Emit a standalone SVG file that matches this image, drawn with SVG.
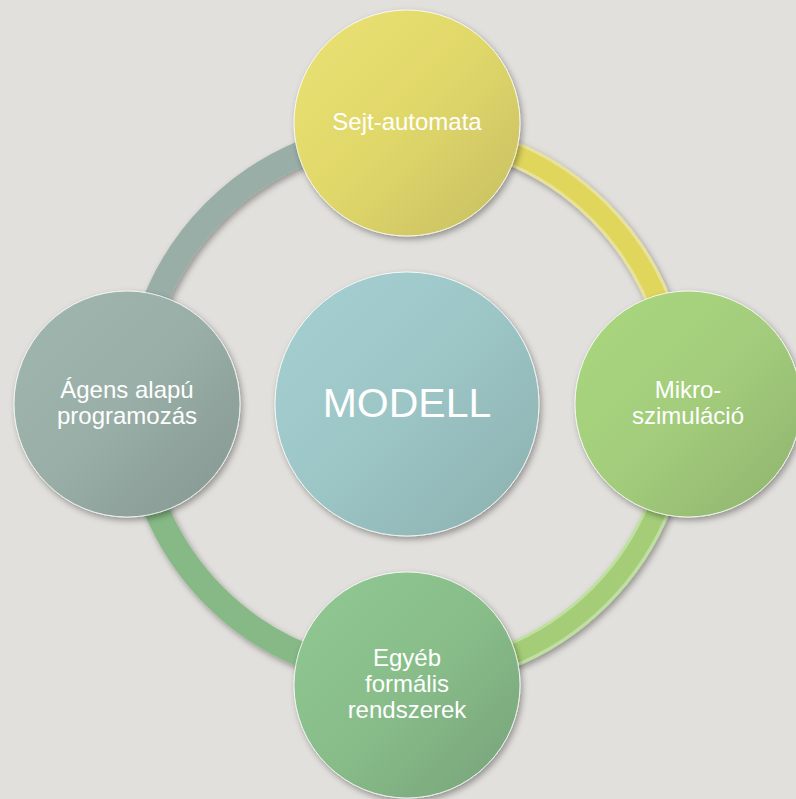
<svg xmlns="http://www.w3.org/2000/svg" width="796" height="799" viewBox="0 0 796 799">
  <defs>
    <filter id="sh" x="-20%" y="-20%" width="140%" height="140%">
      <feGaussianBlur in="SourceAlpha" stdDeviation="3"/>
      <feOffset dx="2" dy="3" result="b"/>
      <feFlood flood-color="#000" flood-opacity="0.35"/>
      <feComposite in2="b" operator="in" result="s"/>
      <feMerge><feMergeNode in="s"/><feMergeNode in="SourceGraphic"/></feMerge>
    </filter>
    <linearGradient id="gTop" x1="0" y1="0" x2="1" y2="1">
      <stop offset="0" stop-color="#eae272"/>
      <stop offset="0.5" stop-color="#e0d76a"/>
      <stop offset="1" stop-color="#c6bd62"/>
    </linearGradient>
    <linearGradient id="gRight" x1="0" y1="0" x2="1" y2="1">
      <stop offset="0" stop-color="#aad77f"/>
      <stop offset="0.5" stop-color="#a3cd7b"/>
      <stop offset="1" stop-color="#8fb26f"/>
    </linearGradient>
    <linearGradient id="gLeft" x1="0" y1="0" x2="1" y2="1">
      <stop offset="0" stop-color="#a0b7b0"/>
      <stop offset="0.5" stop-color="#98aea7"/>
      <stop offset="1" stop-color="#859690"/>
    </linearGradient>
    <linearGradient id="gBottom" x1="0" y1="0" x2="1" y2="1">
      <stop offset="0" stop-color="#90c893"/>
      <stop offset="0.5" stop-color="#88bd89"/>
      <stop offset="1" stop-color="#77a27a"/>
    </linearGradient>
    <linearGradient id="gCenter" x1="0" y1="0" x2="1" y2="1">
      <stop offset="0" stop-color="#a5d0d1"/>
      <stop offset="0.5" stop-color="#9cc5c6"/>
      <stop offset="1" stop-color="#8cafae"/>
    </linearGradient>
    <style>
      .node { stroke: #ffffff; stroke-opacity: 0.8; stroke-width: 1; filter: url(#sh); }
      .lbl { font-family: "Liberation Sans", Arial, sans-serif; font-size: 24px; fill: #ffffff; text-anchor: middle; }
      .arc { fill: none; stroke-width: 25; }
      .arcIn { fill: none; stroke-width: 19; }
    </style>
  </defs>
  <rect width="796" height="799" fill="#e1e0dc"/>

  <g id="connectors" filter="url(#sh)">
    <path class="arc" stroke="#e9e29a" d="M407 132 A272 272 0 0 1 679 404"/>
    <path class="arcIn" stroke="#e0d65c" d="M407 132 A272 272 0 0 1 679 404"/>
    <path class="arc" stroke="#bfe0a0" d="M679 404 A272 272 0 0 1 407 676"/>
    <path class="arcIn" stroke="#a5cd78" d="M679 404 A272 272 0 0 1 407 676"/>
    <path class="arc" stroke="#86b985" d="M407 676 A272 272 0 0 1 135 404"/>
    <path class="arc" stroke="#9aaea8" d="M135 404 A272 272 0 0 1 407 132"/>
  </g>

  <g id="node-top">
    <circle class="node" cx="407" cy="123" r="113" fill="url(#gTop)"/>
    <text class="lbl" x="407" y="130">Sejt-automata</text>
  </g>
  <g id="node-right">
    <circle class="node" cx="688" cy="404" r="113" fill="url(#gRight)"/>
    <text class="lbl" x="688" y="398">Mikro-</text>
    <text class="lbl" x="688" y="424">szimuláció</text>
  </g>
  <g id="node-bottom">
    <circle class="node" cx="407" cy="685" r="113" fill="url(#gBottom)"/>
    <text class="lbl" x="407" y="666">Egyéb</text>
    <text class="lbl" x="407" y="692">formális</text>
    <text class="lbl" x="407" y="718">rendszerek</text>
  </g>
  <g id="node-left">
    <circle class="node" cx="127" cy="404" r="113" fill="url(#gLeft)"/>
    <text class="lbl" x="127" y="398">Ágens alapú</text>
    <text class="lbl" x="127" y="424">programozás</text>
  </g>
  <g id="node-center">
    <circle class="node" cx="407" cy="404" r="132" fill="url(#gCenter)"/>
    <text class="lbl" x="407" y="417" style="font-size:41px">MODELL</text>
  </g>
</svg>
